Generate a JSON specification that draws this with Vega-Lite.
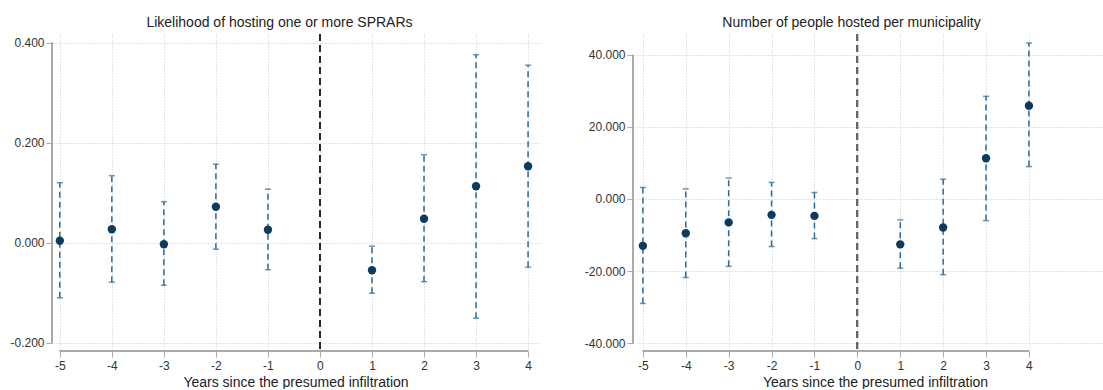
{
  "$schema": "https://vega.github.io/schema/vega-lite/v6.json",
  "background": "white",
  "padding": {"left": 9, "top": 16, "right": 0, "bottom": 0},
  "autosize": {"type": "pad"},
  "spacing": 45,
  "datasets": {
    "est": [
      {"panel": "A", "year": -5, "est": 0.004, "lo": -0.11, "hi": 0.12},
      {"panel": "A", "year": -4, "est": 0.027, "lo": -0.079, "hi": 0.134},
      {"panel": "A", "year": -3, "est": -0.003, "lo": -0.085, "hi": 0.082},
      {"panel": "A", "year": -2, "est": 0.072, "lo": -0.013, "hi": 0.157},
      {"panel": "A", "year": -1, "est": 0.026, "lo": -0.054, "hi": 0.107},
      {"panel": "A", "year": 1, "est": -0.055, "lo": -0.101, "hi": -0.007},
      {"panel": "A", "year": 2, "est": 0.048, "lo": -0.078, "hi": 0.176},
      {"panel": "A", "year": 3, "est": 0.113, "lo": -0.151, "hi": 0.376},
      {"panel": "A", "year": 4, "est": 0.153, "lo": -0.049, "hi": 0.355},
      {"panel": "B", "year": -5, "est": -13.0, "lo": -29.0, "hi": 3.2},
      {"panel": "B", "year": -4, "est": -9.5, "lo": -21.8, "hi": 2.8},
      {"panel": "B", "year": -3, "est": -6.5, "lo": -18.7, "hi": 5.8},
      {"panel": "B", "year": -2, "est": -4.4, "lo": -13.2, "hi": 4.6},
      {"panel": "B", "year": -1, "est": -4.7, "lo": -11.0, "hi": 1.8},
      {"panel": "B", "year": 1, "est": -12.6, "lo": -19.2, "hi": -5.8},
      {"panel": "B", "year": 2, "est": -7.9, "lo": -21.0, "hi": 5.5},
      {"panel": "B", "year": 3, "est": 11.3, "lo": -6.0, "hi": 28.5},
      {"panel": "B", "year": 4, "est": 25.9, "lo": 9.0, "hi": 43.3}
    ]
  },
  "config": {
    "font": "Liberation Sans",
    "view": {"stroke": null},
    "axis": {
      "domain": false,
      "labelColor": "#333333",
      "labelFontSize": 12,
      "labelFont": "Liberation Sans",
      "tickColor": "#aaaaaa",
      "tickSize": 6,
      "gridColor": "#c8c8c8",
      "gridDash": [1, 2],
      "titleFont": "Liberation Sans",
      "titleFontWeight": "normal",
      "titleFontSize": 14,
      "titleColor": "#222222"
    },
    "title": {"font": "Liberation Sans", "fontSize": 14, "fontWeight": "normal", "color": "#222222", "offset": 3}
  },
  "hconcat": [
    {
      "width": 487,
      "height": 317,
      "title": {"text": "Likelihood of hosting one or more SPRARs", "anchor": "middle", "dx": -16},
      "data": {"name": "est"},
      "transform": [{"filter": "datum.panel === 'A'"}],
      "encoding": {
        "x": {
          "field": "year", "type": "quantitative",
          "scale": {"domain": [-5.15, 4.21], "nice": false, "zero": false},
          "axis": {"values": [-5, -4, -3, -2, -1, 0, 1, 2, 3, 4], "grid": true, "labelExpr": "replace(format(datum.value, 'd'), '\u2212', '-')", "title": "Years since the presumed infiltration", "labelPadding": 3, "titlePadding": 4}
        },
        "y": {"field": "lo", "type": "quantitative",
          "scale": {"domain": [-0.2166, 0.4174], "nice": false, "zero": false},
          "axis": {"values": [-0.2, 0, 0.2, 0.4], "grid": true, "labelExpr": "replace(format(datum.value, '.3f'), '\u2212', '-')", "title": null, "labelPadding": 2}}
      },
      "layer": [
        {
          "mark": {"type": "rule", "color": "#aaaaaa", "strokeWidth": 1},
          "encoding": {"x": {"datum": -5}, "x2": {"datum": 4}, "y": {"datum": -0.2166, "type": "quantitative"}}
        },
        {
          "mark": {"type": "rule", "color": "#aaaaaa", "strokeWidth": 1},
          "encoding": {"x": {"datum": -5.15}, "y": {"datum": -0.2, "type": "quantitative"}, "y2": {"datum": 0.4}}
        },
        {
          "mark": {"type": "rule", "color": "#c4c4c4", "strokeDash": [4, 3], "strokeWidth": 1},
          "encoding": {"y": {"datum": 0, "type": "quantitative"}}
        },
        {
          "mark": {"type": "rule", "color": "#2a2a2a", "strokeDash": [7, 4], "strokeWidth": 1.4},
          "encoding": {"x": {"datum": 0}, "y": null}
        },
        {
          "mark": {"type": "rule", "color": "#2f6a93", "strokeDash": [6, 4], "strokeWidth": 1.5},
          "encoding": {"y2": {"field": "hi"}}
        },
        {
          "mark": {"type": "tick", "orient": "horizontal", "color": "#2f6a93", "size": 6, "thickness": 1.5},
          "encoding": {"y": {"field": "lo", "type": "quantitative"}}
        },
        {
          "mark": {"type": "tick", "orient": "horizontal", "color": "#2f6a93", "size": 6, "thickness": 1.5},
          "encoding": {"y": {"field": "hi", "type": "quantitative"}}
        },
        {
          "mark": {"type": "point", "filled": true, "shape": "circle", "size": 70, "color": "#0c3b5f", "opacity": 1},
          "encoding": {"y": {"field": "est", "type": "quantitative"}}
        }
      ]
    },
    {
      "width": 471,
      "height": 317,
      "title": {"text": "Number of people hosted per municipality", "anchor": "middle", "dx": -17},
      "data": {"name": "est"},
      "transform": [{"filter": "datum.panel === 'B'"}],
      "encoding": {
        "x": {
          "field": "year", "type": "quantitative",
          "scale": {"domain": [-5.23, 5.75], "nice": false, "zero": false},
          "axis": {"values": [-5, -4, -3, -2, -1, 0, 1, 2, 3, 4], "grid": true, "labelExpr": "replace(format(datum.value, 'd'), '\u2212', '-')", "title": "Years since the presumed infiltration", "labelPadding": 3, "titlePadding": 4, "titleX": 242}
        },
        "y": {"field": "lo", "type": "quantitative",
          "scale": {"domain": [-42.2, 45.8], "nice": false, "zero": false},
          "axis": {"values": [-40, -20, 0, 20, 40], "grid": true, "labelExpr": "replace(format(datum.value, '.3f'), '\u2212', '-')", "title": null, "labelPadding": 2}}
      },
      "layer": [
        {
          "mark": {"type": "rule", "color": "#aaaaaa", "strokeWidth": 1},
          "encoding": {"x": {"datum": -5}, "x2": {"datum": 4}, "y": {"datum": -42.2, "type": "quantitative"}}
        },
        {
          "mark": {"type": "rule", "color": "#aaaaaa", "strokeWidth": 1},
          "encoding": {"x": {"datum": -5.23}, "y": {"datum": -40, "type": "quantitative"}, "y2": {"datum": 40}}
        },
        {
          "mark": {"type": "rule", "color": "#c4c4c4", "strokeDash": [4, 3], "strokeWidth": 1},
          "encoding": {"y": {"datum": 0, "type": "quantitative"}}
        },
        {
          "mark": {"type": "rule", "color": "#666666", "strokeDash": [7, 4], "strokeWidth": 1.4},
          "encoding": {"x": {"datum": 0}, "y": null}
        },
        {
          "mark": {"type": "rule", "color": "#2f6a93", "strokeDash": [6, 4], "strokeWidth": 1.5},
          "encoding": {"y2": {"field": "hi"}}
        },
        {
          "mark": {"type": "tick", "orient": "horizontal", "color": "#2f6a93", "size": 6, "thickness": 1.5},
          "encoding": {"y": {"field": "lo", "type": "quantitative"}}
        },
        {
          "mark": {"type": "tick", "orient": "horizontal", "color": "#2f6a93", "size": 6, "thickness": 1.5},
          "encoding": {"y": {"field": "hi", "type": "quantitative"}}
        },
        {
          "mark": {"type": "point", "filled": true, "shape": "circle", "size": 70, "color": "#0c3b5f", "opacity": 1},
          "encoding": {"y": {"field": "est", "type": "quantitative"}}
        }
      ]
    }
  ]
}
